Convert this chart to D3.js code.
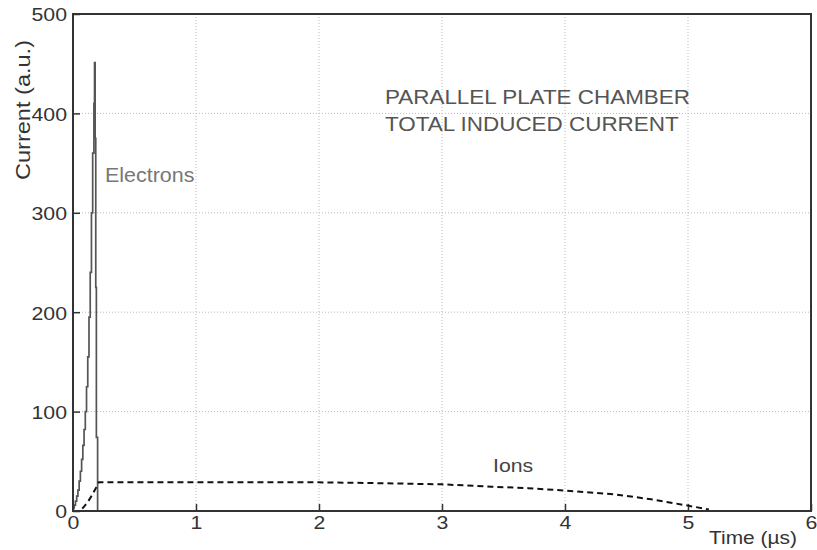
<!DOCTYPE html>
<html>
<head>
<meta charset="utf-8">
<script src="https://cdn.jsdelivr.net/npm/d3@7"></script>
<style>
  body { margin: 0; background: #fff; }
  svg { display: block; font-family: "Liberation Sans", Arial, sans-serif; }
</style>
</head>
<body>
<svg id="chart" width="817" height="550"></svg>
<script>
// ---- data ----
const xTicks = [0, 1, 2, 3, 4, 5, 6];
const yTicks = [0, 100, 200, 300, 400, 500];

const electronTime  = [0, 0.01, 0.02, 0.03, 0.04, 0.05, 0.06, 0.07, 0.08, 0.09, 0.10, 0.11, 0.12, 0.13, 0.14, 0.15, 0.16, 0.17, 0.175, 0.18, 0.185, 0.19, 0.20];
const electronValue = [3, 6, 10, 15, 21, 30, 40, 52, 66, 82, 100, 125, 155, 195, 240, 300, 360, 410, 451, 375, 225, 74, 0];

const ionTime  = [0, 0.05, 0.08, 0.12, 0.16, 0.19, 0.21, 1.0, 2.0, 2.5, 3.0, 3.4, 3.7, 4.0, 4.4, 4.7, 5.0, 5.17];
const ionValue = [0, 0, 3, 9, 17, 24, 29, 29, 28.8, 28, 26.8, 24.5, 23, 20.5, 16.8, 11.8, 5.4, 1.5];

const labels = {
  xAxis: "Time (µs)",
  yAxis: "Current (a.u.)",
  title1: "PARALLEL PLATE CHAMBER",
  title2: "TOTAL INDUCED CURRENT",
  electrons: "Electrons",
  ions: "Ions"
};

// ---- layout ----
const svg = d3.select("#chart");
const m = { left: 73, top: 14, right: 811, bottom: 511 };
const x = d3.scaleLinear().domain([0, 6]).range([m.left, m.right]);
const y = d3.scaleLinear().domain([0, 500]).range([m.bottom, m.top]);

// widen glyphs horizontally (reference font is a little wider than Arial)
function stretch(sel, k) {
  sel.each(function () {
    const w = this.getComputedTextLength();
    d3.select(this).attr("textLength", w * k).attr("lengthAdjust", "spacingAndGlyphs");
  });
  return sel;
}

// grid
const grid = svg.append("g");
grid.selectAll("line.gx").data(xTicks.slice(1, -1)).join("line")
  .attr("x1", d => x(d)).attr("x2", d => x(d))
  .attr("y1", m.top).attr("y2", m.bottom)
  .attr("stroke", "#bbb").attr("stroke-width", 1).attr("stroke-dasharray", "1,2");
grid.selectAll("line.gy").data(yTicks.slice(1, -1)).join("line")
  .attr("x1", m.left).attr("x2", m.right)
  .attr("y1", d => y(d)).attr("y2", d => y(d))
  .attr("stroke", "#bbb").attr("stroke-width", 1).attr("stroke-dasharray", "1,2");

// axes (inward ticks)
const xAxis = d3.axisBottom(x).tickValues(xTicks).tickSize(-7).tickPadding(4).tickFormat(d3.format("d"));
const yAxis = d3.axisLeft(y).tickValues(yTicks).tickSize(-7).tickPadding(6).tickFormat(d3.format("d"));

const gx = svg.append("g").attr("transform", `translate(0,${m.bottom})`).call(xAxis);
const gy = svg.append("g").attr("transform", `translate(${m.left},0)`).call(yAxis);
[gx, gy].forEach(g => {
  g.select(".domain").remove();
  g.selectAll(".tick line").attr("stroke", "#333").attr("stroke-width", 1.5);
  g.selectAll(".tick text").attr("fill", "#333").attr("font-size", 19)
    .attr("font-family", "Liberation Sans, Arial, sans-serif");
});
gx.selectAll(".tick text").attr("dy", "0.72em");
gy.selectAll(".tick text").attr("dy", "0.36em");
stretch(gx.selectAll(".tick text"), 1.12);
stretch(gy.selectAll(".tick text"), 1.12);

// curves
const eData = electronTime.map((t, i) => [t, electronValue[i]]);
const iData = ionTime.map((t, i) => [t, ionValue[i]]);

svg.append("path")
  .datum(eData)
  .attr("fill", "none").attr("stroke", "#555").attr("stroke-width", 1.7)
  .attr("d", d3.line().x(d => x(d[0])).y(d => y(d[1])).curve(d3.curveStepAfter));

svg.append("path")
  .datum(iData)
  .attr("fill", "none").attr("stroke", "#111").attr("stroke-width", 2)
  .attr("stroke-dasharray", "6,4")
  .attr("d", d3.line().x(d => x(d[0])).y(d => y(d[1])));

// frame
svg.append("rect")
  .attr("x", m.left).attr("y", m.top)
  .attr("width", m.right - m.left).attr("height", m.bottom - m.top)
  .attr("fill", "none").attr("stroke", "#333").attr("stroke-width", 2);

// texts
stretch(svg.append("text").attr("x", 385).attr("y", 104)
  .attr("font-size", 19.5).attr("fill", "#555").text(labels.title1), 1.15);
stretch(svg.append("text").attr("x", 385).attr("y", 131)
  .attr("font-size", 19.5).attr("fill", "#555").text(labels.title2), 1.15);
stretch(svg.append("text").attr("x", 105).attr("y", 182)
  .attr("font-size", 19.5).attr("fill", "#777").text(labels.electrons), 1.1);
stretch(svg.append("text").attr("x", 493).attr("y", 472)
  .attr("font-size", 19).attr("fill", "#444").text(labels.ions), 1.12);
stretch(svg.append("text").attr("x", 709).attr("y", 544)
  .attr("font-size", 19).attr("fill", "#333").text(labels.xAxis), 1.1);
svg.append("text")
  .attr("transform", "translate(30,110) rotate(-90)")
  .attr("text-anchor", "middle")
  .attr("font-size", 19.5).attr("fill", "#333")
  .attr("textLength", 140).attr("lengthAdjust", "spacingAndGlyphs")
  .text(labels.yAxis);
</script>
</body>
</html>
